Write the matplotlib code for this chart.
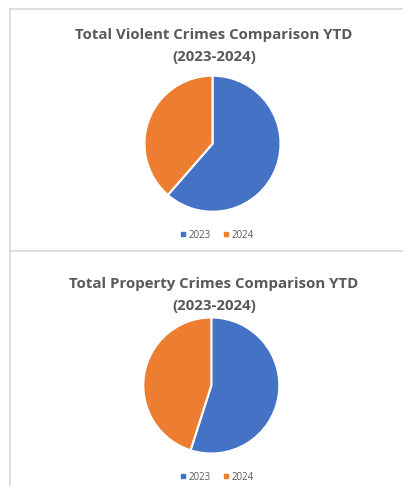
import matplotlib
matplotlib.use("Agg")
import matplotlib.pyplot as plt
from matplotlib.lines import Line2D

# data
labels = ["2023", "2024"]
violent = [35, 22]
prop = [128, 105]
titles = ["Total Violent Crimes Comparison YTD\n(2023-2024)",
          "Total Property Crimes Comparison YTD\n(2023-2024)"]
colors = ["#4472C4", "#ED7D31"]

W, H = 403, 486
fig = plt.figure(figsize=(W / 100, H / 100), dpi=100)
fig.patch.set_facecolor("white")

grey = "#D9D9D9"
txt = "#595959"

def fx(x):
    return x / W

def fy(y):
    return 1 - y / H

# panel borders (excel chart frames)
for y0, y1 in [(9, 251), (251, 490)]:
    fig.add_artist(Line2D([fx(10), fx(10)], [fy(y0), fy(y1)], color=grey, lw=1.2))
    fig.add_artist(Line2D([fx(10), fx(410)], [fy(y0), fy(y0)], color=grey, lw=1.2))

def draw_panel(vals, title, cx, cy, r, ty, ly):
    ax = fig.add_axes([fx(cx - r), fy(cy + r), fx(2 * r), 2 * r / H])
    wedges, _ = ax.pie(vals, colors=colors, startangle=90, counterclock=False,
                       wedgeprops=dict(edgecolor="white", linewidth=1.5))
    ax.set_xlim(-1, 1)
    ax.set_ylim(-1, 1)
    ax.axis("off")
    fig.text(fx(214), fy(ty), title, ha="center", va="center", fontsize=10.8,
             fontweight="bold", color=txt, family="Open Sans", linespacing=1.7)
    handles = [Line2D([], [], marker="s", ls="", color=c, markersize=3.5) for c in colors]
    fig.legend(handles, labels, loc="center", bbox_to_anchor=(fx(216), fy(ly)),
               ncol=2, frameon=False, labelcolor=txt,
               handletextpad=0.1, columnspacing=1.0, handlelength=1.0,
               prop={"family": "Open Sans", "size": 7})

draw_panel(violent, titles[0], 212.5, 143.7, 68, 46, 235)
draw_panel(prop, titles[1], 211.3, 385.5, 68, 295, 477)

fig.savefig("out.png", dpi=100)
